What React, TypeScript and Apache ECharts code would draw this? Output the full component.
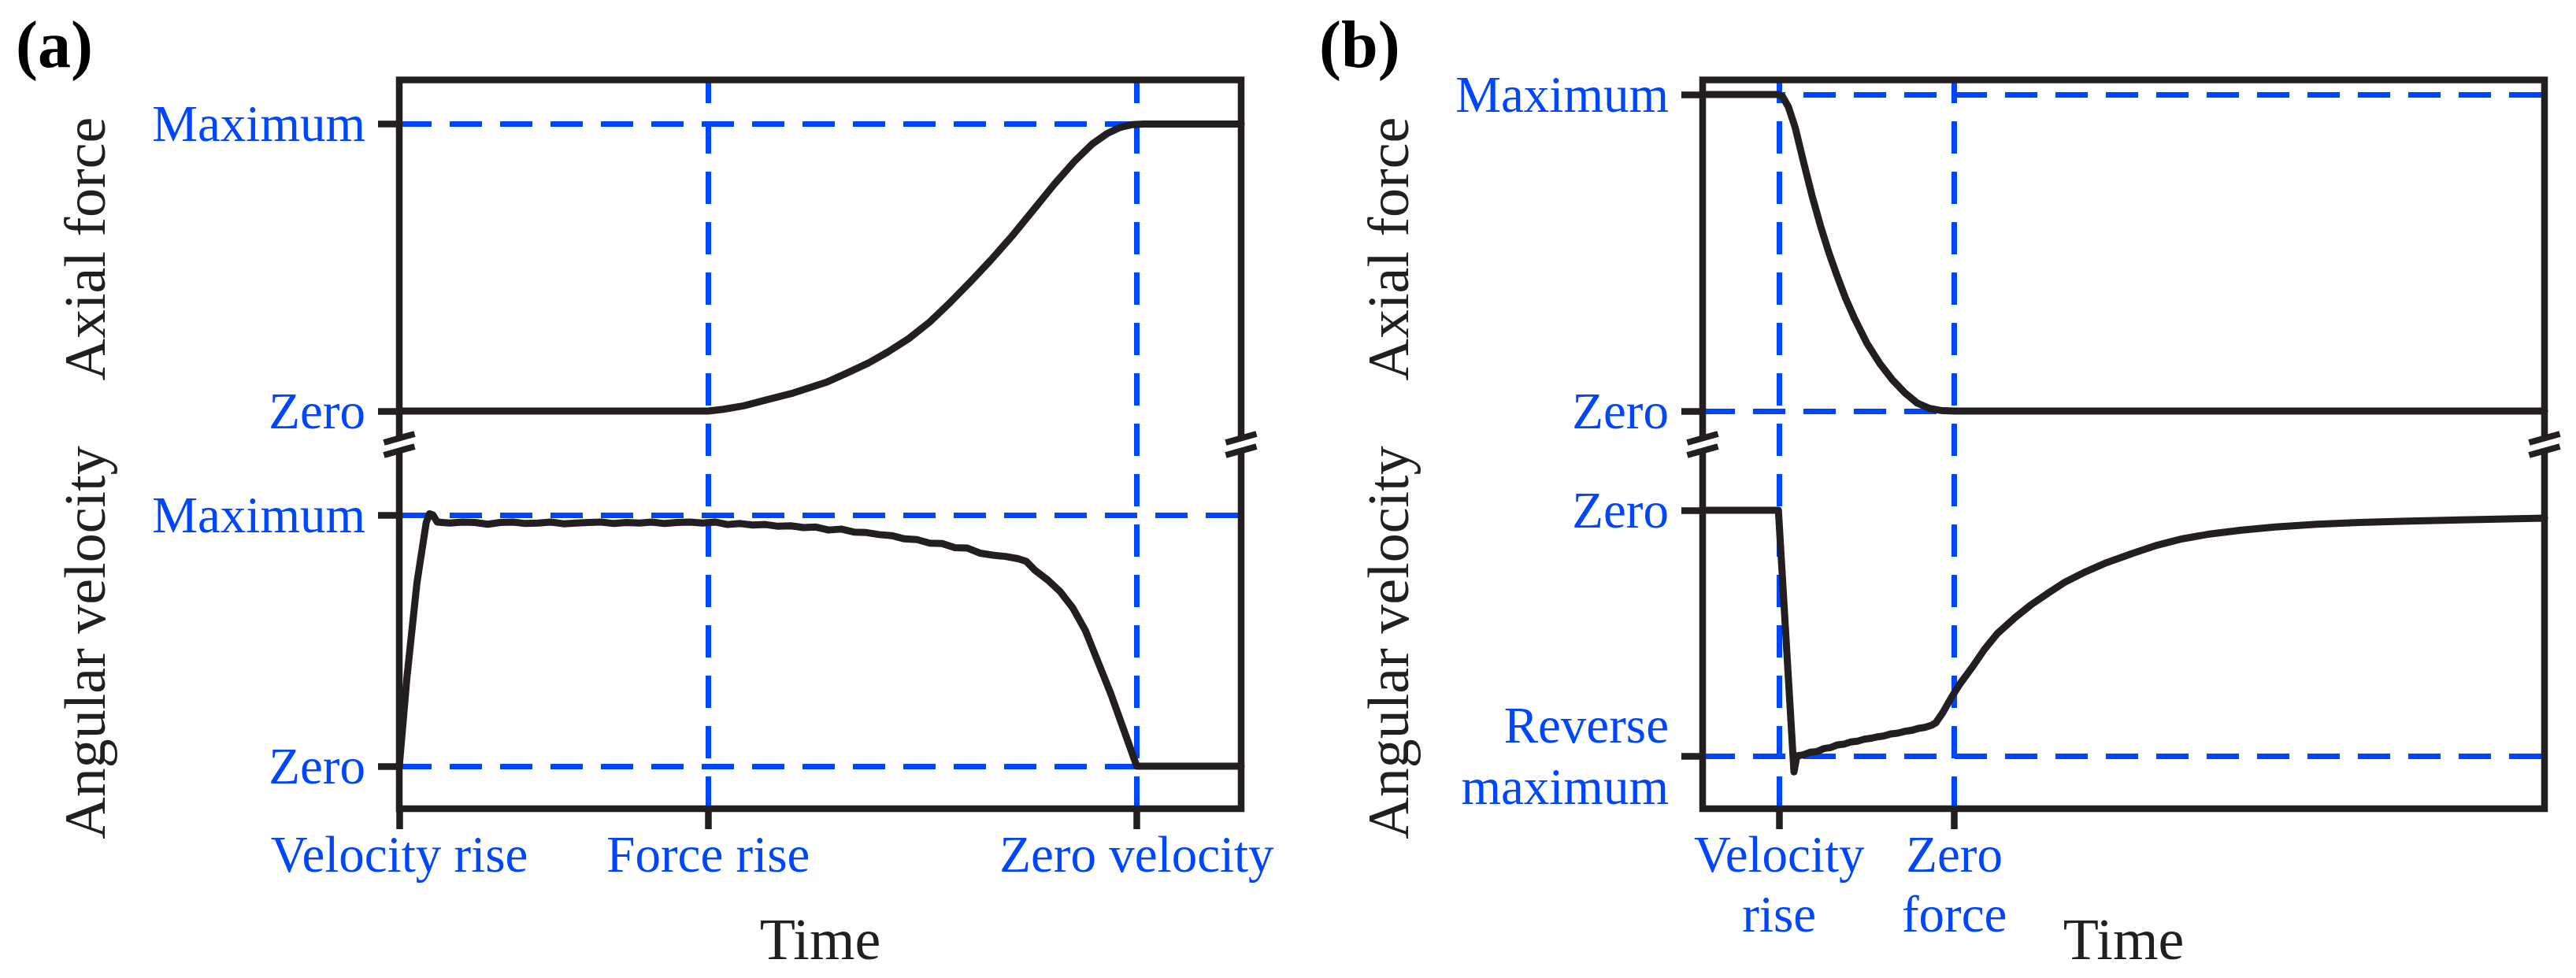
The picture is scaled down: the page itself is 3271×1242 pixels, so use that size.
import React, { useEffect, useRef } from "react";
import * as echarts from "echarts";

const BLACK = "#231F20";
const BLUE = "#0046FF";
const FONT = '"Liberation Serif", "Times New Roman", Times, serif';

// ---------- Panel (a) ----------
const A_X_TICKS = [0, 36.7, 87.6];
const A_X_LABELS = ["Velocity rise", "Force rise", "Zero velocity"];
const A_FORCE_TICKS = [0, 1];
const A_FORCE_LABELS = ["Zero", "Maximum"];
const A_VEL_TICKS = [0, 1];
const A_VEL_LABELS = ["Zero", "Maximum"];
const A_FORCE_HLINES = [1];
const A_VEL_HLINES = [1, 0];
const A_VLINES = [36.7, 87.6];

const A_FORCE: [number, number][] = [
  [0, 0], [36.7, 0], [38.5, 0.006], [40.9, 0.018], [43.5, 0.038], [46.8, 0.063],
  [50.7, 0.1], [53, 0.13], [55.7, 0.167], [58, 0.205], [60.5, 0.252], [63, 0.31],
  [65.5, 0.38], [68, 0.455], [70.3, 0.527], [72.8, 0.61], [75.3, 0.7], [77.8, 0.79],
  [80.2, 0.87], [82.3, 0.93], [84.1, 0.967], [85.6, 0.988], [87.1, 0.998], [88.5, 1],
  [100, 1],
];

const A_VEL: [number, number][] = [
  [0, 0], [0.9, 0.35], [2.1, 0.73], [3.2, 0.97], [3.6, 1.005], [4.0, 1.0], [4.5, 0.972],
  [6, 0.968], [7.5, 0.972], [9, 0.97], [10.5, 0.963], [12, 0.97], [13.5, 0.972],
  [15, 0.966], [16.5, 0.968], [18, 0.972], [19.5, 0.965], [21, 0.968], [22.5, 0.97],
  [24, 0.972], [25.5, 0.966], [27, 0.97], [28.5, 0.968], [30, 0.972], [31.5, 0.966],
  [33, 0.97], [34.5, 0.972], [36, 0.968], [37.5, 0.972], [39, 0.962], [40.5, 0.966],
  [42, 0.96], [43.5, 0.962], [45, 0.955], [46.5, 0.957], [48, 0.95], [49.5, 0.952],
  [51, 0.94], [52.5, 0.944], [54, 0.932], [55.5, 0.93], [57, 0.922], [58.5, 0.918],
  [60, 0.905], [61.5, 0.902], [63, 0.888], [64.5, 0.886], [66, 0.87], [67.5, 0.868],
  [69, 0.848], [70.5, 0.84], [72, 0.835], [73.5, 0.826], [74.5, 0.815], [75.5, 0.78],
  [77, 0.742], [78.5, 0.695], [80, 0.63], [81.5, 0.54], [83, 0.415], [84.5, 0.29],
  [86, 0.15], [87.6, 0], [100, 0],
];

// ---------- Panel (b) ----------
const B_X_TICKS = [9.1, 29.9];
const B_X_LABELS = ["Velocity\nrise", "Zero\nforce"];
const B_FORCE_TICKS = [0, 1];
const B_FORCE_LABELS = ["Zero", "Maximum"];
const B_VEL_TICKS = [-1, 0];
const B_VEL_LABELS = ["Reverse\nmaximum", "Zero"];
const B_FORCE_HLINES = [1, 0];
const B_VEL_HLINES = [-1];
const B_VLINES = [9.1, 29.9];

const B_FORCE: [number, number][] = [
  [0, 1], [8.9, 1], [9.5, 0.993], [10.2, 0.96], [11, 0.895], [12, 0.785], [13, 0.68],
  [14, 0.585], [15, 0.5], [16, 0.425], [17, 0.355], [18, 0.295], [19.5, 0.215],
  [21, 0.152], [22.5, 0.1], [24, 0.058], [25.5, 0.025], [27, 0.008], [28.5, 0.001],
  [30, 0], [100, 0],
];

const B_VEL: [number, number][] = [
  [0, 0], [9.0, 0], [10.85, -1.065], [11.2, -1.0], [12, -0.995], [12.8, -0.985],
  [13.6, -0.982], [14.4, -0.97], [15.2, -0.966], [16, -0.955], [16.8, -0.952],
  [17.6, -0.943], [18.4, -0.94], [19.2, -0.932], [20, -0.928], [20.8, -0.922],
  [21.6, -0.918], [22.4, -0.91], [23.2, -0.907], [24, -0.9], [24.8, -0.896],
  [25.6, -0.888], [26.4, -0.884], [27.2, -0.875], [27.7, -0.865], [28.5, -0.825],
  [29.5, -0.765], [30.5, -0.71], [32, -0.64], [33.5, -0.565], [35, -0.502],
  [37, -0.44], [39, -0.385], [41, -0.338], [43, -0.293], [45.5, -0.25], [48, -0.213],
  [51, -0.176], [54, -0.142], [57, -0.116], [60, -0.098], [64, -0.081], [68, -0.068],
  [73, -0.057], [78, -0.05], [83, -0.045], [90, -0.039], [100, -0.032],
];

// ---------- layout ----------
const GRID_TOP = 101.5;
const GRID_H = 925.5;
const GRID_W = 1069;
const PANEL_LEFT = [507, 2162];
const BREAK_Y = [556.5, 572.5];

function labelFor(values: number[], names: string[]) {
  return (v: number) => {
    const i = values.findIndex((x) => Math.abs(x - v) < 1e-6);
    return i >= 0 ? names[i] : "";
  };
}

function xAxisFor(gridIndex: number, ticks: number[], labels: string[]) {
  return {
    type: "value",
    gridIndex,
    min: 0,
    max: 100,
    position: "bottom",
    axisLine: { show: false, onZero: false },
    splitLine: { show: false },
    axisTick: {
      show: true,
      customValues: ticks,
      length: 26,
      lineStyle: { color: BLACK, width: 8.5 },
    },
    axisLabel: {
      show: true,
      customValues: ticks,
      formatter: labelFor(ticks, labels),
      color: BLUE,
      fontFamily: FONT,
      fontSize: 65,
      lineHeight: 76,
      margin: 20,
      hideOverlap: false,
    },
    name: "Time",
    nameLocation: "middle",
    nameGap: 129,
    nameMoveOverlap: false,
    nameTextStyle: { color: BLACK, fontFamily: FONT, fontSize: 74, lineHeight: 74 },
  };
}

function yAxisFor(gridIndex: number, min: number, max: number, ticks: number[], labels: string[]) {
  return {
    type: "value",
    gridIndex,
    min,
    max,
    position: "left",
    offset: 0,
    axisLine: { show: false, onZero: false },
    splitLine: { show: false },
    axisTick: {
      show: true,
      customValues: ticks,
      length: 27,
      lineStyle: { color: BLACK, width: 8.5 },
    },
    axisLabel: {
      show: true,
      customValues: ticks,
      formatter: labelFor(ticks, labels),
      color: BLUE,
      fontFamily: FONT,
      fontSize: 65,
      lineHeight: 78,
      margin: 43,
      hideOverlap: false,
    },
  };
}

function curve(xi: number, yi: number, data: [number, number][], h: number[], v: number[]) {
  const ml: any[] = [];
  h.forEach((y) => ml.push({ yAxis: y }));
  v.forEach((x) => ml.push({ xAxis: x }));
  return {
    type: "line",
    xAxisIndex: xi,
    yAxisIndex: yi,
    data,
    z: 10,
    showSymbol: false,
    symbol: "none",
    smooth: false,
    lineStyle: { color: BLACK, width: 9, join: "round", cap: "round" },
    emphasis: { disabled: true },
    markLine: {
      z: 1,
      silent: true,
      symbol: ["none", "none"],
      label: { show: false },
      emphasis: { disabled: true },
      lineStyle: { color: BLUE, width: 7, type: [41, 23] },
      data: ml,
    },
  };
}

function breakMarks() {
  const els: any[] = [];
  const xs = [PANEL_LEFT[0], PANEL_LEFT[0] + GRID_W, PANEL_LEFT[1], PANEL_LEFT[1] + GRID_W];
  xs.forEach((X) => {
    els.push({
      type: "rect",
      z: 30,
      silent: true,
      shape: { x: X - 7, y: 558, width: 14, height: 13 },
      style: { fill: "#ffffff" },
    });
    BREAK_Y.forEach((yc) => {
      els.push({
        type: "line",
        z: 31,
        silent: true,
        shape: { x1: X - 19.5, y1: yc + 5.5, x2: X + 19.5, y2: yc - 5.5 },
        style: { stroke: BLACK, lineWidth: 8, lineCap: "butt" },
      });
    });
  });
  return els;
}

function texts() {
  const els: any[] = [];
  const panels = [
    { label: "(a)", dx: 0 },
    { label: "(b)", dx: 1655 },
  ];
  panels.forEach((p) => {
    els.push({
      type: "text",
      z: 30,
      x: 20 + p.dx,
      y: 56,
      style: {
        text: p.label,
        fontFamily: FONT,
        fontWeight: "bold",
        fontSize: 84,
        fill: "#000000",
        align: "left",
        verticalAlign: "middle",
      },
    });
    [
      { t: "Axial force", y: 316 },
      { t: "Angular velocity", y: 816 },
    ].forEach((q) => {
      els.push({
        type: "text",
        z: 30,
        x: 108 + p.dx,
        y: q.y,
        rotation: Math.PI / 2,
        style: {
          text: q.t,
          fontFamily: FONT,
          fontSize: 74,
          fill: BLACK,
          align: "center",
          verticalAlign: "middle",
        },
      });
    });
  });
  return els;
}

export default function App() {
  const ref = useRef<HTMLDivElement>(null);
  useEffect(() => {
    document.body.style.margin = "0";
    if (!ref.current) return;
    const chart = echarts.init(ref.current, undefined, { renderer: "svg" });
    const option: any = {
      animation: false,
      backgroundColor: "#ffffff",
      textStyle: { fontFamily: FONT },
      grid: PANEL_LEFT.map((left) => ({
        left,
        top: GRID_TOP,
        width: GRID_W,
        height: GRID_H,
        show: true,
        z: 20,
        containLabel: false,
        outerBoundsMode: "none",
        borderColor: BLACK,
        borderWidth: 8.5,
        backgroundColor: "transparent",
      })),
      xAxis: [xAxisFor(0, A_X_TICKS, A_X_LABELS), xAxisFor(1, B_X_TICKS, B_X_LABELS)],
      yAxis: [
        yAxisFor(0, -1.3855, 1.1536, A_FORCE_TICKS, A_FORCE_LABELS),
        yAxisFor(0, -0.1693, 2.732, A_VEL_TICKS, A_VEL_LABELS),
        yAxisFor(1, -1.2562, 1.046, B_FORCE_TICKS, B_FORCE_LABELS),
        yAxisFor(1, -1.2147, 1.7516, B_VEL_TICKS, B_VEL_LABELS),
      ],
      series: [
        curve(0, 0, A_FORCE, A_FORCE_HLINES, A_VLINES),
        curve(0, 1, A_VEL, A_VEL_HLINES, []),
        curve(1, 2, B_FORCE, B_FORCE_HLINES, B_VLINES),
        curve(1, 3, B_VEL, B_VEL_HLINES, []),
      ],
      graphic: { elements: [...breakMarks(), ...texts()] },
    };
    chart.setOption(option);
    return () => chart.dispose();
  }, []);
  return <div ref={ref} style={{ width: "3271px", height: "1242px" }} />;
}
